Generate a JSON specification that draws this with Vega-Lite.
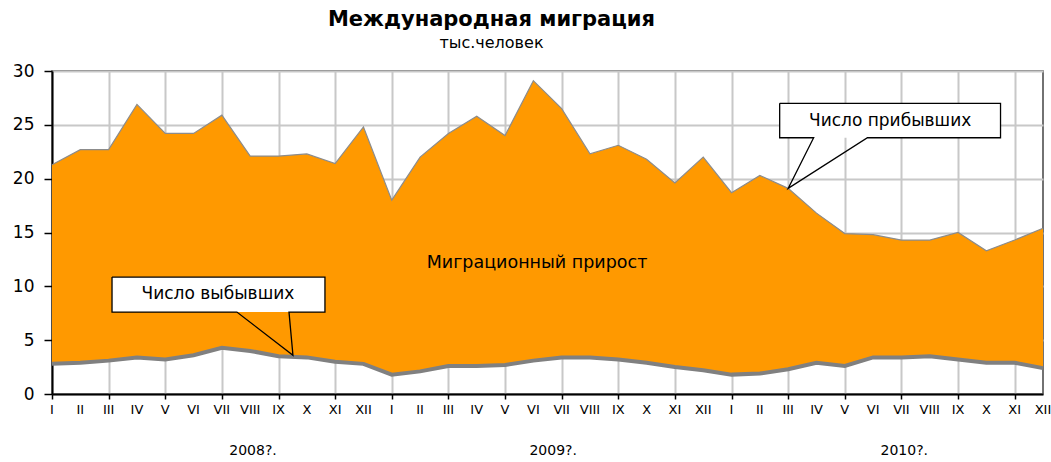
{
  "$schema": "https://vega.github.io/schema/vega-lite/v6.json",
  "width": 991,
  "height": 323,
  "autosize": "none",
  "padding": {"left": 52, "top": 71, "right": 8, "bottom": 68},
  "background": "white",
  "config": {
    "font": "DejaVu Sans",
    "view": {"stroke": "#444", "strokeWidth": 1.5}
  },
  "title": {
    "text": "Международная миграция",
    "subtitle": "тыс.человек",
    "anchor": "middle",
    "frame": "group",
    "dx": -56,
    "offset": 11,
    "font": "DejaVu Sans",
    "fontSize": 21,
    "fontWeight": "bold",
    "color": "#000",
    "subtitleFont": "DejaVu Sans",
    "subtitleFontSize": 16,
    "subtitleColor": "#000",
    "subtitlePadding": 5
  },
  "datasets": {
    "main": [
      {"i": 0, "m": "I", "arr": 21.3, "dep": 2.8},
      {"i": 1, "m": "II", "arr": 22.7, "dep": 2.9},
      {"i": 2, "m": "III", "arr": 22.7, "dep": 3.1},
      {"i": 3, "m": "IV", "arr": 26.9, "dep": 3.4},
      {"i": 4, "m": "V", "arr": 24.2, "dep": 3.2},
      {"i": 5, "m": "VI", "arr": 24.2, "dep": 3.6},
      {"i": 6, "m": "VII", "arr": 25.9, "dep": 4.3},
      {"i": 7, "m": "VIII", "arr": 22.1, "dep": 4.0},
      {"i": 8, "m": "IX", "arr": 22.1, "dep": 3.5},
      {"i": 9, "m": "X", "arr": 22.3, "dep": 3.4},
      {"i": 10, "m": "XI", "arr": 21.4, "dep": 3.0},
      {"i": 11, "m": "XII", "arr": 24.8, "dep": 2.8},
      {"i": 12, "m": "I", "arr": 18.0, "dep": 1.8},
      {"i": 13, "m": "II", "arr": 22.0, "dep": 2.1},
      {"i": 14, "m": "III", "arr": 24.2, "dep": 2.6},
      {"i": 15, "m": "IV", "arr": 25.8, "dep": 2.6},
      {"i": 16, "m": "V", "arr": 24.0, "dep": 2.7},
      {"i": 17, "m": "VI", "arr": 29.1, "dep": 3.1},
      {"i": 18, "m": "VII", "arr": 26.5, "dep": 3.4},
      {"i": 19, "m": "VIII", "arr": 22.3, "dep": 3.4},
      {"i": 20, "m": "IX", "arr": 23.1, "dep": 3.2},
      {"i": 21, "m": "X", "arr": 21.8, "dep": 2.9},
      {"i": 22, "m": "XI", "arr": 19.6, "dep": 2.5},
      {"i": 23, "m": "XII", "arr": 22.0, "dep": 2.2},
      {"i": 24, "m": "I", "arr": 18.7, "dep": 1.8},
      {"i": 25, "m": "II", "arr": 20.3, "dep": 1.9},
      {"i": 26, "m": "III", "arr": 19.1, "dep": 2.3},
      {"i": 27, "m": "IV", "arr": 16.8, "dep": 2.9},
      {"i": 28, "m": "V", "arr": 14.9, "dep": 2.6},
      {"i": 29, "m": "VI", "arr": 14.8, "dep": 3.4},
      {"i": 30, "m": "VII", "arr": 14.3, "dep": 3.4},
      {"i": 31, "m": "VIII", "arr": 14.3, "dep": 3.5},
      {"i": 32, "m": "IX", "arr": 15.0, "dep": 3.2},
      {"i": 33, "m": "X", "arr": 13.3, "dep": 2.9},
      {"i": 34, "m": "XI", "arr": 14.3, "dep": 2.9},
      {"i": 35, "m": "XII", "arr": 15.4, "dep": 2.4}
    ],
    "boxes": [
      {"b": "arr", "x1": 25.7, "x2": 33.5, "y1": 23.8, "y2": 27.0},
      {"b": "dep", "x1": 2.12, "x2": 9.64, "y1": 7.61, "y2": 10.86}
    ],
    "outlines": [
      {"b": "arr", "o": 0, "x": 25.7, "y": 27.0},
      {"b": "arr", "o": 1, "x": 33.5, "y": 27.0},
      {"b": "arr", "o": 2, "x": 33.5, "y": 23.8},
      {"b": "arr", "o": 3, "x": 28.8, "y": 23.8},
      {"b": "arr", "o": 4, "x": 26.0, "y": 19.1},
      {"b": "arr", "o": 5, "x": 26.9, "y": 23.8},
      {"b": "arr", "o": 6, "x": 25.7, "y": 23.8},
      {"b": "arr", "o": 7, "x": 25.7, "y": 27.0},
      {"b": "dep", "o": 0, "x": 2.12, "y": 10.86},
      {"b": "dep", "o": 1, "x": 9.64, "y": 10.86},
      {"b": "dep", "o": 2, "x": 9.64, "y": 7.61},
      {"b": "dep", "o": 3, "x": 8.37, "y": 7.61},
      {"b": "dep", "o": 4, "x": 8.51, "y": 3.6},
      {"b": "dep", "o": 5, "x": 6.53, "y": 7.61},
      {"b": "dep", "o": 6, "x": 2.12, "y": 7.61},
      {"b": "dep", "o": 7, "x": 2.12, "y": 10.86}
    ],
    "labels": [
      {"t": "Число прибывших", "x": 29.6, "y": 25.35, "s": 17},
      {"t": "Число выбывших", "x": 5.86, "y": 9.25, "s": 17},
      {"t": "Миграционный прирост", "x": 17.13, "y": 12.2, "s": 17.5},
      {"t": "2008?.", "x": 7.1, "y": -5.3, "s": 14},
      {"t": "2009?.", "x": 17.7, "y": -5.3, "s": 14},
      {"t": "2010?.", "x": 30.1, "y": -5.3, "s": 14}
    ]
  },
  "data": {"name": "main"},
  "layer": [
    {
      "mark": {"type": "area", "color": "#FF9900", "opacity": 1},
      "encoding": {
        "x": {
          "field": "i", "type": "quantitative",
          "scale": {"domain": [0, 35], "nice": false, "zero": false},
          "axis": {
            "title": null,
            "values": [0,1,2,3,4,5,6,7,8,9,10,11,12,13,14,15,16,17,18,19,20,21,22,23,24,25,26,27,28,29,30,31,32,33,34,35],
            "labels": false,
            "tickSize": 5,
            "tickColor": "#000",
            "tickWidth": 1.5,
            "domainColor": "#000",
            "domainWidth": 2,
            "grid": true,
            "gridColor": "#c8c8c8",
            "gridWidth": 2
          }
        },
        "y": {
          "field": "arr", "type": "quantitative",
          "scale": {"domain": [0, 30], "nice": false},
          "axis": {
            "title": null,
            "values": [0, 5, 10, 15, 20, 25, 30],
            "labelFont": "DejaVu Sans",
            "labelFontSize": 17,
            "labelColor": "#000",
            "labelPadding": 10,
            "tickSize": 8,
            "tickColor": "#000",
            "tickWidth": 1.5,
            "domainColor": "#000",
            "domainWidth": 2,
            "grid": true,
            "gridColor": "#c8c8c8",
            "gridWidth": 2
          }
        },
        "y2": {"field": "dep"}
      }
    },
    {
      "mark": {"type": "line", "color": "#8c8c8c", "strokeWidth": 1.2},
      "encoding": {
        "x": {"field": "i", "type": "quantitative"},
        "y": {"field": "arr", "type": "quantitative"}
      }
    },
    {
      "mark": {"type": "line", "color": "#808080", "strokeWidth": 4},
      "encoding": {
        "x": {"field": "i", "type": "quantitative"},
        "y": {"field": "dep", "type": "quantitative"}
      }
    },
    {
      "mark": {"type": "text", "color": "#000", "baseline": "middle", "align": "center", "fontSize": 13, "font": "DejaVu Sans", "clip": false},
      "encoding": {
        "x": {"field": "i", "type": "quantitative"},
        "y": {"datum": -1.5, "type": "quantitative"},
        "text": {"field": "m"}
      }
    },
    {
      "data": {"name": "boxes"},
      "mark": {"type": "rect", "fill": "white", "stroke": null},
      "encoding": {
        "x": {"field": "x1", "type": "quantitative"},
        "x2": {"field": "x2"},
        "y": {"field": "y1", "type": "quantitative"},
        "y2": {"field": "y2"}
      }
    },
    {
      "data": {"name": "outlines"},
      "mark": {"type": "line", "color": "#000", "strokeWidth": 1.3},
      "encoding": {
        "x": {"field": "x", "type": "quantitative"},
        "y": {"field": "y", "type": "quantitative"},
        "detail": {"field": "b"},
        "order": {"field": "o"}
      }
    },
    {
      "data": {"name": "labels"},
      "mark": {"type": "text", "color": "#000", "baseline": "middle", "align": "center", "font": "DejaVu Sans", "clip": false},
      "encoding": {
        "x": {"field": "x", "type": "quantitative"},
        "y": {"field": "y", "type": "quantitative"},
        "text": {"field": "t"},
        "size": {"field": "s", "type": "quantitative", "scale": null}
      }
    }
  ]
}
